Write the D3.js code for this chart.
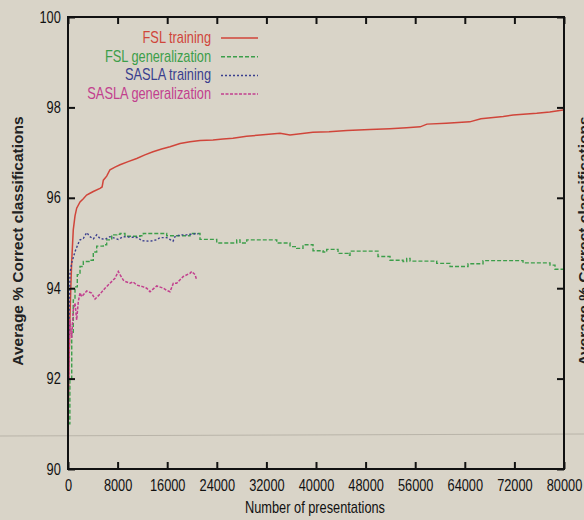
<!DOCTYPE html>
<html>
<head>
<meta charset="utf-8">
<script src="https://cdn.jsdelivr.net/npm/d3@7"></script>
<style>
  body { margin: 0; background: #d9d4c8; }
  svg { display: block; }
  .tick text { font-family: "Liberation Sans", Arial, sans-serif; font-size: 16px; fill: #111; }
</style>
</head>
<body>
<div class="chart"></div>
<script>
// values
const fslTrainX = [0, 150, 300, 450, 600, 850, 1130, 1400, 1940, 2470, 3000, 3550, 4080, 5160, 5500, 5700, 6240, 6770, 7580, 8390, 9700, 11080, 12400, 13710, 15100, 16450, 18070, 19680, 21300, 23390, 25000, 26600, 28800, 31000, 34200, 35800, 39500, 42100, 45000, 48700, 51900, 54600, 56800, 57900, 61000, 64800, 66600, 70200, 71800, 75600, 77700, 79850];
const fslTrainY = [91.0, 92.2, 93.3, 94.0, 94.6, 95.29, 95.6, 95.77, 95.91, 95.98, 96.06, 96.1, 96.14, 96.21, 96.24, 96.39, 96.48, 96.62, 96.68, 96.73, 96.8, 96.87, 96.95, 97.02, 97.08, 97.13, 97.2, 97.24, 97.27, 97.28, 97.3, 97.32, 97.36, 97.39, 97.43, 97.39, 97.45, 97.46, 97.49, 97.51, 97.53, 97.55, 97.57, 97.63, 97.65, 97.68, 97.75, 97.8, 97.83, 97.87, 97.9, 97.94];

const fslGenX = [0, 300, 600, 850, 1130, 1500, 1940, 2470, 3550, 4080, 4630, 5700, 6240, 7050, 7860, 8390, 9190, 11610, 12150, 15370, 15920, 19680, 21290, 23990, 27210, 27740, 28830, 33670, 35810, 36890, 37900, 39520, 41130, 41730, 43550, 45160, 45490, 50000, 51940, 54040, 54630, 55170, 59470, 61620, 64520, 66940, 73390, 77740, 78550, 80000];
const fslGenY = [91.0, 92.0, 93.0, 93.74, 94.03, 94.3, 94.48, 94.59, 94.62, 94.8, 94.93, 94.96, 95.07, 95.18, 95.19, 95.21, 95.15, 95.16, 95.21, 95.21, 95.16, 95.21, 95.08, 95.0, 95.07, 95.0, 95.07, 95.0, 94.92, 94.88, 94.96, 94.83, 94.8, 94.86, 94.77, 94.73, 94.82, 94.7, 94.62, 94.59, 94.66, 94.6, 94.55, 94.48, 94.54, 94.61, 94.56, 94.51, 94.42, 94.4];

const saslaTrainX = [0, 150, 320, 600, 1130, 1660, 1940, 2470, 3020, 3550, 4080, 4630, 5160, 5970, 6770, 8110, 8870, 11290, 11890, 13230, 14310, 14840, 15920, 16940, 17260, 18070, 19150, 20760, 21020];
const saslaTrainY = [91.2, 93.0, 94.34, 94.56, 94.81, 94.99, 95.07, 95.1, 95.23, 95.14, 95.09, 95.18, 95.1, 95.08, 95.14, 95.08, 95.14, 95.12, 95.05, 95.04, 95.07, 95.12, 95.12, 95.04, 95.14, 95.18, 95.18, 95.21, 95.2];

const saslaGenX = [0, 150, 320, 600, 850, 1130, 1400, 1660, 1940, 2210, 3020, 3820, 4360, 5160, 5970, 6770, 7580, 8110, 8390, 8920, 9190, 10000, 10490, 11080, 12150, 12690, 13230, 14310, 15370, 15920, 16450, 16990, 17530, 18600, 19680, 19950, 20490, 20760];
const saslaGenY = [91.0, 92.3, 93.3, 92.9, 93.52, 93.67, 93.3, 93.7, 93.9, 93.81, 93.94, 93.89, 93.76, 93.87, 94.0, 94.11, 94.22, 94.37, 94.3, 94.18, 94.15, 94.11, 94.14, 94.07, 94.03, 94.0, 93.92, 94.05, 94.0, 93.95, 93.92, 94.11, 94.11, 94.26, 94.33, 94.37, 94.3, 94.18];

const seriesNames = ["FSL training", "FSL generalization", "SASLA training", "SASLA generalization"];
const seriesColors = ["#d0453a", "#3c9e4a", "#3a3f8e", "#c23f8e"];
const seriesDash = [null, "4,2", "2,2", "3,1.5"];

const xTicks = [0, 8000, 16000, 24000, 32000, 40000, 48000, 56000, 64000, 72000, 80000];
const yTicks = [90, 92, 94, 96, 98, 100];

const w = 584, h = 520;
const margin = { top: 17, right: 20, bottom: 51, left: 68 };
const font = "Liberation Sans, Arial, sans-serif";
const squeeze = 0.8; // the scan uses a condensed face

const svg = d3.select(".chart").append("svg")
  .attr("width", w)
  .attr("height", h);

const xScale = d3.scaleLinear().domain([0, 80000]).range([margin.left, w - margin.right]);
const yScale = d3.scaleLinear().domain([90, 100]).range([h - margin.bottom, margin.top]);

// faint scanner streak across the page
svg.append("line")
  .attr("x1", 0).attr("x2", w)
  .attr("y1", 436).attr("y2", 434)
  .attr("stroke", "#b9b4a9").attr("stroke-width", 1);

const series = [
  { x: fslTrainX, y: fslTrainY, curve: d3.curveLinear, width: 1.5 },
  { x: fslGenX, y: fslGenY, curve: d3.curveStepAfter, width: 1.4 },
  { x: saslaTrainX, y: saslaTrainY, curve: d3.curveLinear, width: 1.4 },
  { x: saslaGenX, y: saslaGenY, curve: d3.curveLinear, width: 1.5 }
];

const line = d3.line()
  .x((d) => xScale(d[0]))
  .y((d) => yScale(d[1]));

series.forEach((s, i) => {
  const pts = s.x.map((v, j) => [v, s.y[j]]);
  svg.append("path")
    .datum(pts)
    .attr("fill", "none")
    .attr("stroke", seriesColors[i])
    .attr("stroke-width", s.width)
    .attr("stroke-dasharray", seriesDash[i])
    .attr("d", line.curve(s.curve));
});

// axes, ticks pointing inward
const tickLen = 7;
svg.append("g")
  .attr("transform", "translate(0," + (h - margin.bottom) + ")")
  .call(d3.axisBottom(xScale).tickValues(xTicks).tickSizeInner(-tickLen).tickSizeOuter(0).tickPadding(11).tickFormat(d3.format("d")))
  .selectAll(".tick text")
  .attr("transform", `scale(${squeeze},1)`);

svg.append("g")
  .attr("transform", "translate(0," + margin.top + ")")
  .call(d3.axisTop(xScale).tickValues(xTicks).tickSizeInner(-tickLen).tickSizeOuter(0).tickFormat(""));

svg.append("g")
  .attr("transform", "translate(" + margin.left + ",0)")
  .call(d3.axisLeft(yScale).tickValues(yTicks).tickSizeInner(-tickLen).tickSizeOuter(0).tickPadding(9))
  .selectAll(".tick text")
  .attr("transform", `scale(${squeeze},1)`);

svg.append("g")
  .attr("transform", "translate(" + (w - margin.right) + ",0)")
  .call(d3.axisRight(yScale).tickValues(yTicks).tickSizeInner(-tickLen).tickSizeOuter(0).tickFormat(""));

svg.selectAll(".tick line").attr("stroke", "#111").attr("stroke-width", 2);
svg.selectAll(".domain").remove();

// plot frame
svg.append("rect")
  .attr("x", margin.left).attr("y", margin.top)
  .attr("width", w - margin.left - margin.right)
  .attr("height", h - margin.top - margin.bottom)
  .attr("fill", "none")
  .attr("stroke", "#111")
  .attr("stroke-width", 2);

// axis titles
svg.append("text")
  .attr("transform", `translate(315,513) scale(${squeeze},1)`)
  .attr("text-anchor", "middle")
  .attr("font-family", font)
  .attr("font-size", 16)
  .attr("fill", "#111")
  .text("Number of presentations");

svg.append("text")
  .attr("transform", "translate(23,241) rotate(-90)")
  .attr("text-anchor", "middle")
  .attr("font-family", font)
  .attr("font-size", 15.5)
  .attr("font-weight", "bold")
  .attr("fill", "#222")
  .text("Average % Correct classifications");

// neighbouring figure's label, cut by the page edge
svg.append("text")
  .attr("transform", "translate(589,241) rotate(-90)")
  .attr("text-anchor", "middle")
  .attr("font-family", font)
  .attr("font-size", 15.5)
  .attr("font-weight", "bold")
  .attr("fill", "#222")
  .text("Average % Correct classifications");

// legend
const legend = svg.append("g");
seriesNames.forEach((name, i) => {
  const y = 38 + i * 18.7;
  legend.append("text")
    .attr("transform", `translate(211,${y + 5}) scale(${squeeze},1)`)
    .attr("text-anchor", "end")
    .attr("font-family", font)
    .attr("font-size", 16)
    .attr("fill", seriesColors[i])
    .text(name);
  legend.append("line")
    .attr("x1", 221).attr("x2", 258)
    .attr("y1", y).attr("y2", y)
    .attr("stroke", seriesColors[i])
    .attr("stroke-width", 1.5)
    .attr("stroke-dasharray", seriesDash[i]);
});
</script>
</body>
</html>
